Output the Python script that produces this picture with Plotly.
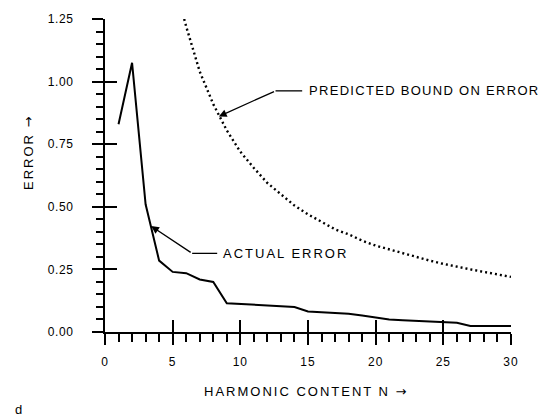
import plotly.graph_objects as go

# Actual error (solid line)
n_actual = [1, 2, 3, 4, 5, 6, 7, 8, 9, 10, 11, 12, 13, 14, 15, 16, 17, 18, 19, 20,
            21, 22, 23, 24, 25, 26, 27, 28, 29, 30]
err_actual = [0.83, 1.075, 0.51, 0.285, 0.24, 0.235, 0.21, 0.20, 0.115, 0.112,
              0.109, 0.106, 0.103, 0.10, 0.082, 0.079, 0.076, 0.073, 0.066, 0.058,
              0.05, 0.047, 0.044, 0.041, 0.039, 0.037, 0.024, 0.024, 0.024, 0.024]

# Predicted bound on error (dotted curve)
n_bound = [5.85, 6, 7, 8, 9, 10, 11, 12, 13, 14, 15, 16, 17, 18, 19, 20,
           21, 22, 23, 24, 25, 26, 27, 28, 29, 30]
err_bound = [1.25, 1.22, 1.04, 0.91, 0.805, 0.72, 0.655, 0.595, 0.55, 0.505, 0.47,
             0.44, 0.41, 0.39, 0.365, 0.345, 0.33, 0.312, 0.298, 0.285, 0.272,
             0.26, 0.25, 0.24, 0.23, 0.22]

x_ticks = [0, 5, 10, 15, 20, 25, 30]
y_ticks = [0.0, 0.25, 0.5, 0.75, 1.0, 1.25]
y_ticktext = ["0.00", "0.25", "0.50", "0.75", "1.00", "1.25"]

FONT = "Liberation Sans, Arial, sans-serif"
ARROW = '<span style="font-family:DejaVu Sans">\u2192</span>'


def sp(text, ls):
    return '<span style="letter-spacing:%spx">%s</span>' % (ls, text)


fig = go.Figure()
fig.add_trace(go.Scatter(x=n_bound, y=err_bound, mode="lines",
                         line=dict(color="black", width=2.4, dash="2px,3px"),
                         showlegend=False, hoverinfo="skip"))
fig.add_trace(go.Scatter(x=n_actual, y=err_actual, mode="lines",
                         line=dict(color="black", width=2),
                         showlegend=False, hoverinfo="skip"))
# helper trace for the overlay axes (inside half of the crossing major ticks)
fig.add_trace(go.Scatter(x=[], y=[], xaxis="x2", yaxis="y2", mode="lines",
                         showlegend=False, hoverinfo="skip"))

axis_common = dict(showgrid=False, zeroline=False, color="black",
                   tickfont=dict(family=FONT, size=12, color="black"))

fig.update_layout(
    width=560, height=417,
    margin=dict(l=105, r=49, t=17, b=85),
    paper_bgcolor="white", plot_bgcolor="white",
    xaxis=dict(range=[0, 30], tickmode="array", tickvals=x_ticks,
               ticktext=[sp(str(v), 1) for v in x_ticks],
               ticks="outside", ticklen=11, tickwidth=1.5,
               showline=True, linewidth=2, linecolor="black",
               ticklabelstandoff=7,
               minor=dict(ticks="outside", ticklen=8, tickwidth=1.5, dtick=1,
                          tick0=0, tickcolor="black"),
               **axis_common),
    yaxis=dict(range=[0, 1.25], tickmode="array", tickvals=y_ticks,
               ticktext=[sp(t, 0.6) for t in y_ticktext],
               ticks="outside", ticklen=11, tickwidth=1.5,
               showline=True, linewidth=2, linecolor="black",
               ticklabelstandoff=16,
               minor=dict(ticks="outside", ticklen=7, tickwidth=1.5, dtick=0.05,
                          tick0=0, tickcolor="black"),
               **axis_common),
    xaxis2=dict(range=[0, 30], overlaying="x", anchor="y2", tickmode="array",
                tickvals=x_ticks, ticks="inside", ticklen=12, tickwidth=1.5,
                tickcolor="black", showticklabels=False, showline=False,
                showgrid=False, zeroline=False),
    yaxis2=dict(range=[0, 1.25], overlaying="y", anchor="x2", tickmode="array",
                tickvals=y_ticks, ticks="inside", ticklen=12, tickwidth=1.5,
                tickcolor="black", showticklabels=False, showline=False,
                showgrid=False, zeroline=False),
)

# Axis titles
fig.add_annotation(xref="paper", yref="paper", x=-0.187, y=0.572,
                   xanchor="center", yanchor="middle",
                   text=sp("ERROR " + ARROW, 2.0), textangle=-90, showarrow=False,
                   font=dict(family=FONT, size=13, color="black"))
fig.add_annotation(xref="paper", yref="paper", x=0.497, y=-0.19,
                   xanchor="center", yanchor="middle",
                   text=sp("HARMONIC CONTENT N " + ARROW, 2.0), showarrow=False,
                   font=dict(family=FONT, size=13, color="black"))

# Callout: predicted bound
fig.add_shape(type="line", xref="x", yref="y", x0=12.6, y0=0.963, x1=14.57, y1=0.963,
              line=dict(color="black", width=1.3))
fig.add_annotation(xref="x", yref="y", x=8.41, y=0.861, ax=12.6, ay=0.963,
                   axref="x", ayref="y", text="", showarrow=True, arrowhead=2,
                   arrowsize=1.2, arrowwidth=1.3, arrowcolor="black")
fig.add_annotation(xref="x", yref="y", x=14.94, y=0.963, xanchor="left",
                   text=sp("PREDICTED BOUND ON ERROR", 1.3), showarrow=False,
                   font=dict(family=FONT, size=13, color="black"))

# Callout: actual error
fig.add_shape(type="line", xref="x", yref="y", x0=6.44, y0=0.314, x1=8.29, y1=0.314,
              line=dict(color="black", width=1.3))
fig.add_annotation(xref="x", yref="y", x=3.41, y=0.423, ax=6.44, ay=0.314,
                   axref="x", ayref="y", text="", showarrow=True, arrowhead=2,
                   arrowsize=1.2, arrowwidth=1.3, arrowcolor="black")
fig.add_annotation(xref="x", yref="y", x=8.55, y=0.314, xanchor="left",
                   text=sp("ACTUAL ERROR", 2), showarrow=False,
                   font=dict(family=FONT, size=13, color="black"))

# Panel letter at the bottom-left corner
fig.add_annotation(xref="paper", yref="paper", x=-0.226, y=-0.218,
                   xanchor="left", yanchor="top", text="d", showarrow=False,
                   font=dict(family=FONT, size=13, color="black"))

fig.write_html("out.html")
